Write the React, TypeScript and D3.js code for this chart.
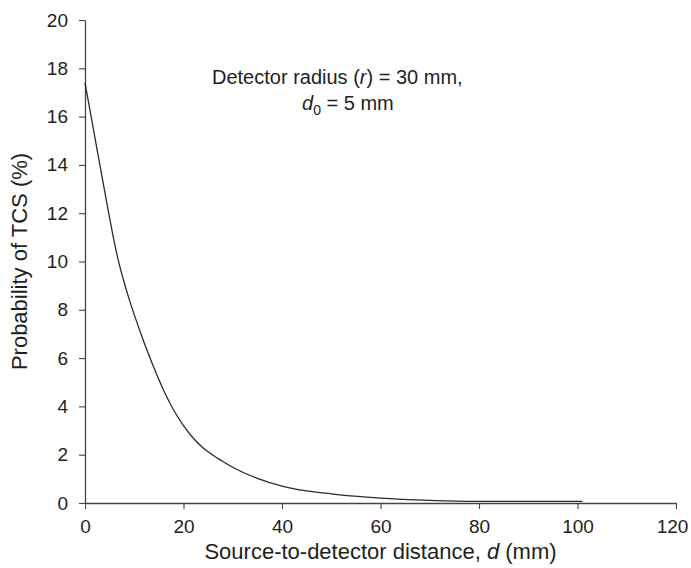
import React, { useEffect, useRef } from 'react';
import * as d3 from 'd3';

// source-to-detector distance d (mm)
const distance = [0, 2, 4, 5, 6, 7, 8, 9, 10, 12, 14, 16, 18, 20, 22, 24, 26, 28, 30, 35, 40, 45, 50, 56, 60, 70, 80, 90, 101];
// probability of TCS (%)
const probability = [17.4, 15.15, 12.9, 11.8, 10.75, 9.85, 9.1, 8.42, 7.8, 6.65, 5.6, 4.65, 3.85, 3.2, 2.68, 2.28, 1.98, 1.72, 1.48, 1.02, 0.7, 0.5, 0.38, 0.26, 0.2, 0.11, 0.07, 0.07, 0.07];

const xTicks = [0, 20, 40, 60, 80, 100, 120];
const yTicks = [0, 2, 4, 6, 8, 10, 12, 14, 16, 18, 20];

const App = () => {
  const chartRef = useRef<SVGSVGElement>(null);

  useEffect(() => {
    drawChart();
  }, []);

  const drawChart = () => {
    const width = 691;
    const height = 568;
    const margin = { top: 20, right: 15, bottom: 65, left: 85 };
    const font = '"Liberation Sans", Arial, Helvetica, sans-serif';
    const ink = '#231f20';

    const svg = d3.select(chartRef.current);
    svg.selectAll('*').remove();
    svg.attr('width', width).attr('height', height);

    const x = d3.scaleLinear().domain([0, 120]).range([margin.left, 676]);
    const y = d3.scaleLinear().domain([0, 20]).range([height - margin.bottom, margin.top]);

    const xAxis = svg
      .append('g')
      .attr('transform', `translate(0,${y(0)})`)
      .call(d3.axisBottom(x).tickValues(xTicks).tickSize(6).tickPadding(11).tickSizeOuter(0));

    const yAxis = svg
      .append('g')
      .attr('transform', `translate(${x(0)},0)`)
      .call(d3.axisLeft(y).tickValues(yTicks).tickSize(6).tickPadding(11).tickSizeOuter(0));

    [xAxis, yAxis].forEach(g => {
      g.select('.domain').attr('stroke', '#444').attr('stroke-width', 1.3);
      g.selectAll('.tick line').attr('stroke', '#444').attr('stroke-width', 1.1);
      g.selectAll('.tick text')
        .attr('fill', ink)
        .style('font-family', font)
        .style('font-size', '19px');
    });
    // last label sits against the right edge
    xAxis.selectAll('.tick text').filter(d => d === 120).attr('dx', -4);

    const data = distance.map((d, i) => ({ d, p: probability[i] }));
    const line = d3
      .line<{ d: number; p: number }>()
      .x(v => x(v.d))
      .y(v => y(v.p))
      .curve(d3.curveMonotoneX);

    svg
      .append('path')
      .datum(data)
      .attr('d', line)
      .attr('fill', 'none')
      .attr('stroke', '#2a2a2a')
      .attr('stroke-width', 1.3);

    // axis titles
    const xt = svg
      .append('text')
      .attr('x', 380.5)
      .attr('y', 559)
      .attr('text-anchor', 'middle')
      .attr('fill', ink)
      .style('font-family', font)
      .style('font-size', '22px');
    xt.append('tspan').text('Source-to-detector distance, ');
    xt.append('tspan').style('font-style', 'italic').text('d');
    xt.append('tspan').text(' (mm)');

    svg
      .append('text')
      .attr('transform', `translate(27,${(y(0) + y(20)) / 2}) rotate(-90)`)
      .attr('text-anchor', 'middle')
      .attr('fill', ink)
      .style('font-family', font)
      .style('font-size', '22px')
      .text('Probability of TCS (%)');

    // annotation
    const a1 = svg
      .append('text')
      .attr('x', 212)
      .attr('y', 84)
      .attr('fill', ink)
      .style('font-family', font)
      .style('font-size', '20px');
    a1.append('tspan').text('Detector radius (');
    a1.append('tspan').style('font-style', 'italic').text('r');
    a1.append('tspan').text(') = 30 mm,');

    const a2 = svg
      .append('text')
      .attr('x', 302)
      .attr('y', 110)
      .attr('fill', ink)
      .style('font-family', font)
      .style('font-size', '20px');
    a2.append('tspan').style('font-style', 'italic').text('d');
    a2.append('tspan').attr('dy', 5).style('font-size', '14px').text('0');
    a2.append('tspan').attr('dy', -5).text(' = 5 mm');
  };

  return (
    <div>
      <svg ref={chartRef} style={{ position: 'absolute', left: 0, top: 0, background: '#fff' }}></svg>
    </div>
  );
};

export default App;
